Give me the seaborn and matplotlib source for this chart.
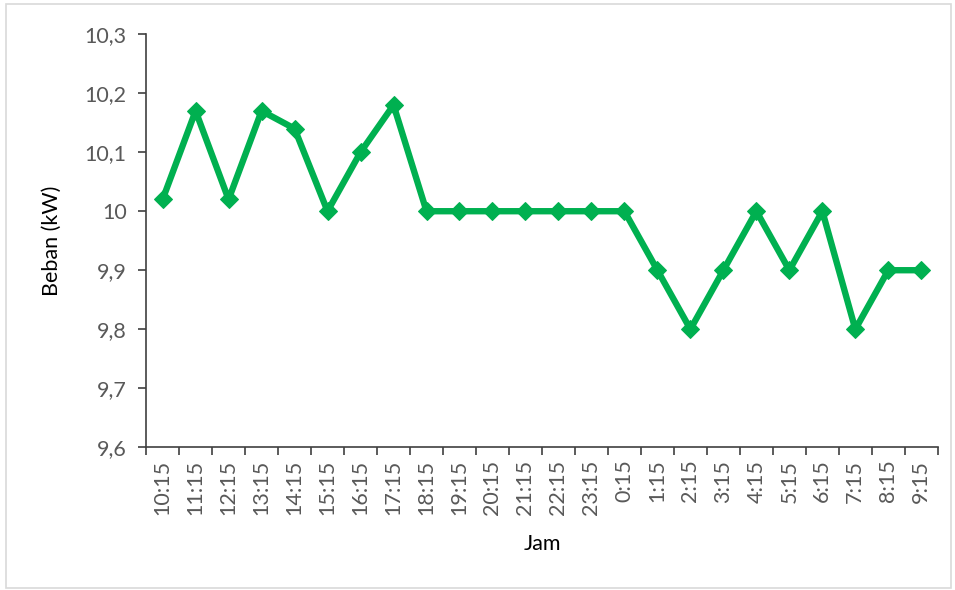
import matplotlib
matplotlib.use("Agg")
import matplotlib.pyplot as plt
from matplotlib.ticker import FixedLocator, FuncFormatter
from matplotlib.patches import Rectangle
import seaborn as sns
import pandas as pd

jam = ["10:15", "11:15", "12:15", "13:15", "14:15", "15:15", "16:15", "17:15",
       "18:15", "19:15", "20:15", "21:15", "22:15", "23:15", "0:15", "1:15",
       "2:15", "3:15", "4:15", "5:15", "6:15", "7:15", "8:15", "9:15"]
beban = [10.02, 10.17, 10.02, 10.17, 10.14, 10.0, 10.1, 10.18,
         10.0, 10.0, 10.0, 10.0, 10.0, 10.0, 10.0, 9.9,
         9.8, 9.9, 10.0, 9.9, 10.0, 9.8, 9.9, 9.9]
y_ticks = [9.6, 9.7, 9.8, 9.9, 10.0, 10.1, 10.2, 10.3]

df = pd.DataFrame({"pos": range(len(jam)), "Jam": jam, "Beban": beban})

sns.set_style("white")
plt.rcParams["font.family"] = ["Lato", "DejaVu Sans"]

fig = plt.figure(figsize=(9.55, 5.9), dpi=100)
ax = fig.add_axes([0.153, 0.242, 0.829, 0.700])

sns.lineplot(data=df, x="pos", y="Beban", ax=ax, color="#00B050",
             linewidth=4.6, marker="D", markersize=9.5,
             markeredgecolor="#00B050", markerfacecolor="#00B050")

n = len(jam)
ax.set_xlim(-0.5, n - 0.5)
ax.set_ylim(y_ticks[0], y_ticks[-1])

# category labels at the centres, tick marks on the boundaries
ax.xaxis.set_major_locator(FixedLocator(list(range(n))))
ax.set_xticklabels(jam, rotation=90)
ax.xaxis.set_minor_locator(FixedLocator([i - 0.5 for i in range(n + 1)]))
ax.tick_params(axis="x", which="major", length=0, pad=9,
               labelsize=15.5, labelcolor="#595959")
ax.tick_params(axis="x", which="minor", length=6, width=1.2,
               color="#404040", direction="out", bottom=True)

ax.yaxis.set_major_locator(FixedLocator(y_ticks))
ax.yaxis.set_major_formatter(FuncFormatter(lambda v, p: f"{v:g}".replace(".", ",")))
ax.tick_params(axis="y", which="major", length=6, width=1.2, color="#404040",
               direction="out", left=True, labelsize=15.5, labelcolor="#595959", pad=8)

for side in ("top", "right"):
    ax.spines[side].set_visible(False)
for side in ("left", "bottom"):
    ax.spines[side].set_color("#404040")
    ax.spines[side].set_linewidth(1.2)
ax.grid(False)

ax.set_xlabel("Jam", fontsize=15.5, color="black", labelpad=14)
ax.set_ylabel("Beban (kW)", fontsize=15.5, color="black", labelpad=16)

fig.patches.append(Rectangle((0.006, 0.004), 0.99, 0.99, transform=fig.transFigure,
                             fill=False, edgecolor="#D9D9D9", linewidth=1.2))

fig.savefig("out.png", dpi=100, facecolor="white")
